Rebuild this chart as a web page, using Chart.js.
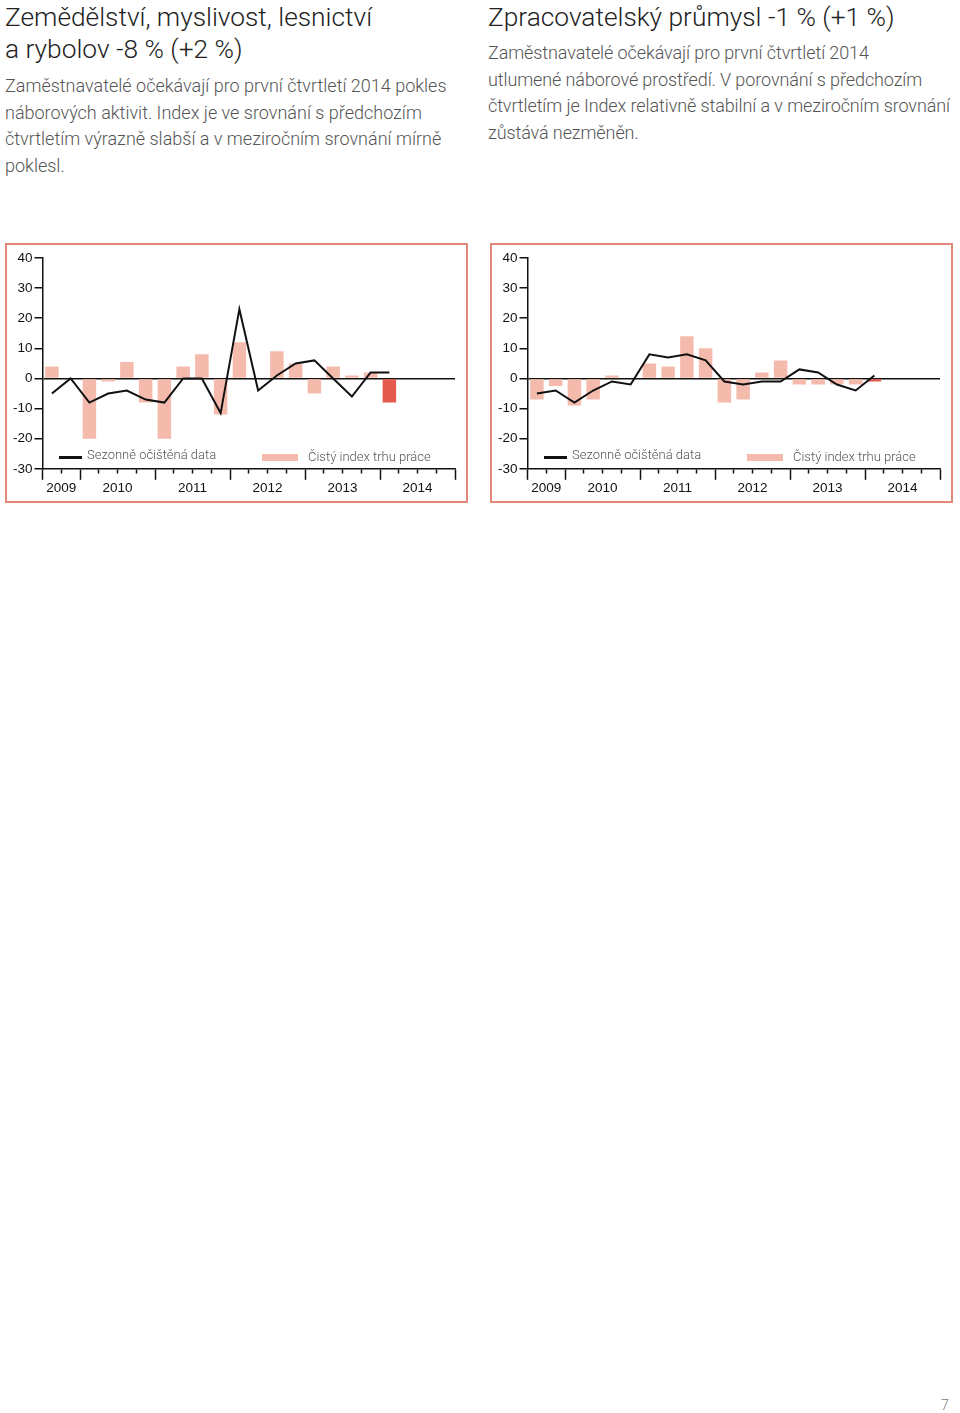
<!DOCTYPE html>
<html lang="cs">
<head>
<meta charset="utf-8">
<script src="https://cdn.jsdelivr.net/npm/chart.js@4.4.1/dist/chart.umd.min.js"></script>
<style>
  body { margin: 0; width: 960px; height: 1413px; position: relative; background: #fff; font-family: Roboto, "Liberation Sans", sans-serif; }
  .nadpis { position: absolute; top: 1px; font-weight: 300; font-size: 26.3px; line-height: 32px; color: #222; white-space: nowrap; }
  .text { position: absolute; font-weight: 300; font-size: 18px; line-height: 26.7px; color: #555; white-space: nowrap; }
  .ramecek { position: absolute; top: 243px; width: 459px; height: 256px; border: 2px solid #e4887b; }
  .ramecek canvas { position: absolute; left: 0; top: 0; }
  .legenda { position: absolute; font-weight: 300; font-size: 13px; color: #555; white-space: nowrap; line-height: 14px; }
  .vzorek { position: absolute; }
  .strana { position: absolute; left: 941px; top: 1397px; font-size: 14px; font-weight: 300; color: #777; }
</style>
</head>
<body>

<div class="nadpis" style="left:5px">Zemědělství, myslivost, lesnictví<br>a rybolov -8 % (+2 %)</div>
<div class="text" style="left:5px; top:73px">Zaměstnavatelé očekávají pro první čtvrtletí 2014 pokles<br>náborových aktivit. Index je ve srovnání s předchozím<br>čtvrtletím výrazně slabší a v meziročním srovnání mírně<br>poklesl.</div>

<div class="nadpis" style="left:488px">Zpracovatelský průmysl -1 % (+1 %)</div>
<div class="text" style="left:488px; top:40px; letter-spacing:-0.1px">Zaměstnavatelé očekávají pro první čtvrtletí 2014<br>utlumené náborové prostředí. V porovnání s předchozím<br>čtvrtletím je Index relativně stabilní a v meziročním srovnání<br>zůstává nezměněn.</div>

<div class="ramecek" id="ramecek-zemedelstvi" style="left:5px"><canvas id="graf-zemedelstvi" width="459" height="256"></canvas></div>
<div class="ramecek" id="ramecek-prumysl" style="left:490px"><canvas id="graf-prumysl" width="459" height="256"></canvas></div>

<div class="strana">7</div>

<script>
// čtvrtletí na ose x (data končí 2014 Q1, osa pokračuje do konce roku)
const ctvrtleti = [
  "2009 Q3", "2009 Q4",
  "2010 Q1", "2010 Q2", "2010 Q3", "2010 Q4",
  "2011 Q1", "2011 Q2", "2011 Q3", "2011 Q4",
  "2012 Q1", "2012 Q2", "2012 Q3", "2012 Q4",
  "2013 Q1", "2013 Q2", "2013 Q3", "2013 Q4",
  "2014 Q1", "2014 Q2", "2014 Q3", "2014 Q4",
]

const zemedelstviIndex = [4, 0, -20, -1, 5.5, -8, -20, 4, 8, -12, 12, 0, 9, 5, -5, 4, 1, 2, -8]
const zemedelstviSezonni = [-5, 0, -8, -5, -4, -7, -8, 0, 0, -11.5, 23, -4, 1, 5, 6, 0, -6, 2, 2]

const prumyslIndex = [-7, -2.5, -9, -7, 1, 0, 5, 4, 14, 10, -8, -7, 2, 6, -2, -2, -2, -2, -1]
const prumyslSezonni = [-5, -4, -8, -4, -1, -2, 8, 7, 8, 6, -1, -2, -1, -1, 3, 2, -2, -4, 1]

const yMin = -30
const yMax = 40
const yKrok = 10

const popisSezonni = "Sezonně očištěná data"
const popisIndex = "Čistý index trhu práce"

// roky a jejich hranice spočítané z popisků čtvrtletí
const roky = [...new Set(ctvrtleti.map(c => c.slice(0, 4)))]
const hraniceRoku = roky.map(r => ctvrtleti.findIndex(c => c.startsWith(r)) - 0.5)
hraniceRoku.push(ctvrtleti.length - 0.5)
const strediskaRoku = {}
roky.forEach((r, i) => { strediskaRoku[(hraniceRoku[i] + hraniceRoku[i + 1]) / 2] = r })
const hraniceCtvrtleti = ctvrtleti.map((c, i) => i - 0.5).concat([ctvrtleti.length - 0.5])

const barvaOsy = "#111"
const barvaSloupce = "#f4bbad"
const barvaPosledni = "#e55a4e"

function vytvorGraf(canvasId, indexData, sezonniData) {
  const ctx = document.getElementById(canvasId).getContext("2d")
  const posledni = indexData.length - 1

  return new Chart(ctx, {
    type: "bar",
    data: {
      datasets: [
        {
          type: "line",
          label: popisSezonni,
          data: sezonniData.map((v, i) => ({ x: i, y: v })),
          borderColor: barvaOsy,
          borderWidth: 2,
          pointRadius: 0,
          tension: 0,
          order: 0,
        },
        {
          type: "bar",
          label: popisIndex,
          data: indexData.map((v, i) => ({ x: i, y: v })),
          backgroundColor: c => (c.dataIndex === posledni ? barvaPosledni : barvaSloupce),
          barPercentage: 0.72,
          categoryPercentage: 1,
          order: 1,
        },
      ],
    },
    options: {
      responsive: false,
      animation: false,
      layout: { padding: { left: 4, top: 13, right: 11, bottom: 5 } },
      plugins: {
        legend: { display: false },
        tooltip: { enabled: false },
      },
      scales: {
        x: {
          type: "linear",
          min: -0.5,
          max: ctvrtleti.length - 0.5,
          offset: false,
          afterBuildTicks: osa => {
            osa.ticks = hraniceCtvrtleti.map(v => ({ value: v }))
          },
          grid: {
            offset: false,
            drawOnChartArea: false,
            drawTicks: true,
            tickLength: 11,
            tickColor: barvaOsy,
            tickWidth: 1.5,
            tickBorderDash: c => (hraniceRoku.includes(c.tick.value) ? [] : [4, 30]),
          },
          border: { color: barvaOsy, width: 1.5 },
          ticks: {
            autoSkip: false,
            maxRotation: 0,
            padding: 0,
            color: barvaOsy,
            font: { family: "Liberation Sans", size: 13.5 },
            callback: v => strediskaRoku[v] || "",
          },
        },
        y: {
          min: yMin,
          max: yMax,
          ticks: {
            stepSize: yKrok,
            padding: 2,
            color: barvaOsy,
            font: { family: "Liberation Sans", size: 13.5 },
          },
          grid: {
            drawOnChartArea: true,
            color: c => (c.tick.value === 0 ? barvaOsy : "transparent"),
            lineWidth: 1.5,
            tickColor: barvaOsy,
            tickLength: 8,
            tickWidth: 1.5,
          },
          border: { color: barvaOsy, width: 1.5 },
        },
      },
    },
  })
}

// legenda uvnitř grafu, vytvořená z datových řad
function vytvorLegendu(ramecekId, graf) {
  const ramecek = document.getElementById(ramecekId)
  const [rada1, rada2] = graf.data.datasets

  const cara = document.createElement("div")
  cara.className = "vzorek"
  cara.style.cssText = "left:52px;top:211px;width:23px;height:3px;background:" + rada1.borderColor
  ramecek.appendChild(cara)

  const text1 = document.createElement("div")
  text1.className = "legenda"
  text1.style.cssText = "left:80px;top:203px"
  text1.textContent = rada1.label
  ramecek.appendChild(text1)

  const obdelnik = document.createElement("div")
  obdelnik.className = "vzorek"
  obdelnik.style.cssText = "left:255px;top:209px;width:36px;height:7px;background:" + barvaSloupce
  ramecek.appendChild(obdelnik)

  const text2 = document.createElement("div")
  text2.className = "legenda"
  text2.style.cssText = "left:301px;top:205px"
  text2.textContent = rada2.label
  ramecek.appendChild(text2)
}

const grafZemedelstvi = vytvorGraf("graf-zemedelstvi", zemedelstviIndex, zemedelstviSezonni)
const grafPrumysl = vytvorGraf("graf-prumysl", prumyslIndex, prumyslSezonni)
vytvorLegendu("ramecek-zemedelstvi", grafZemedelstvi)
vytvorLegendu("ramecek-prumysl", grafPrumysl)
</script>
</body>
</html>
